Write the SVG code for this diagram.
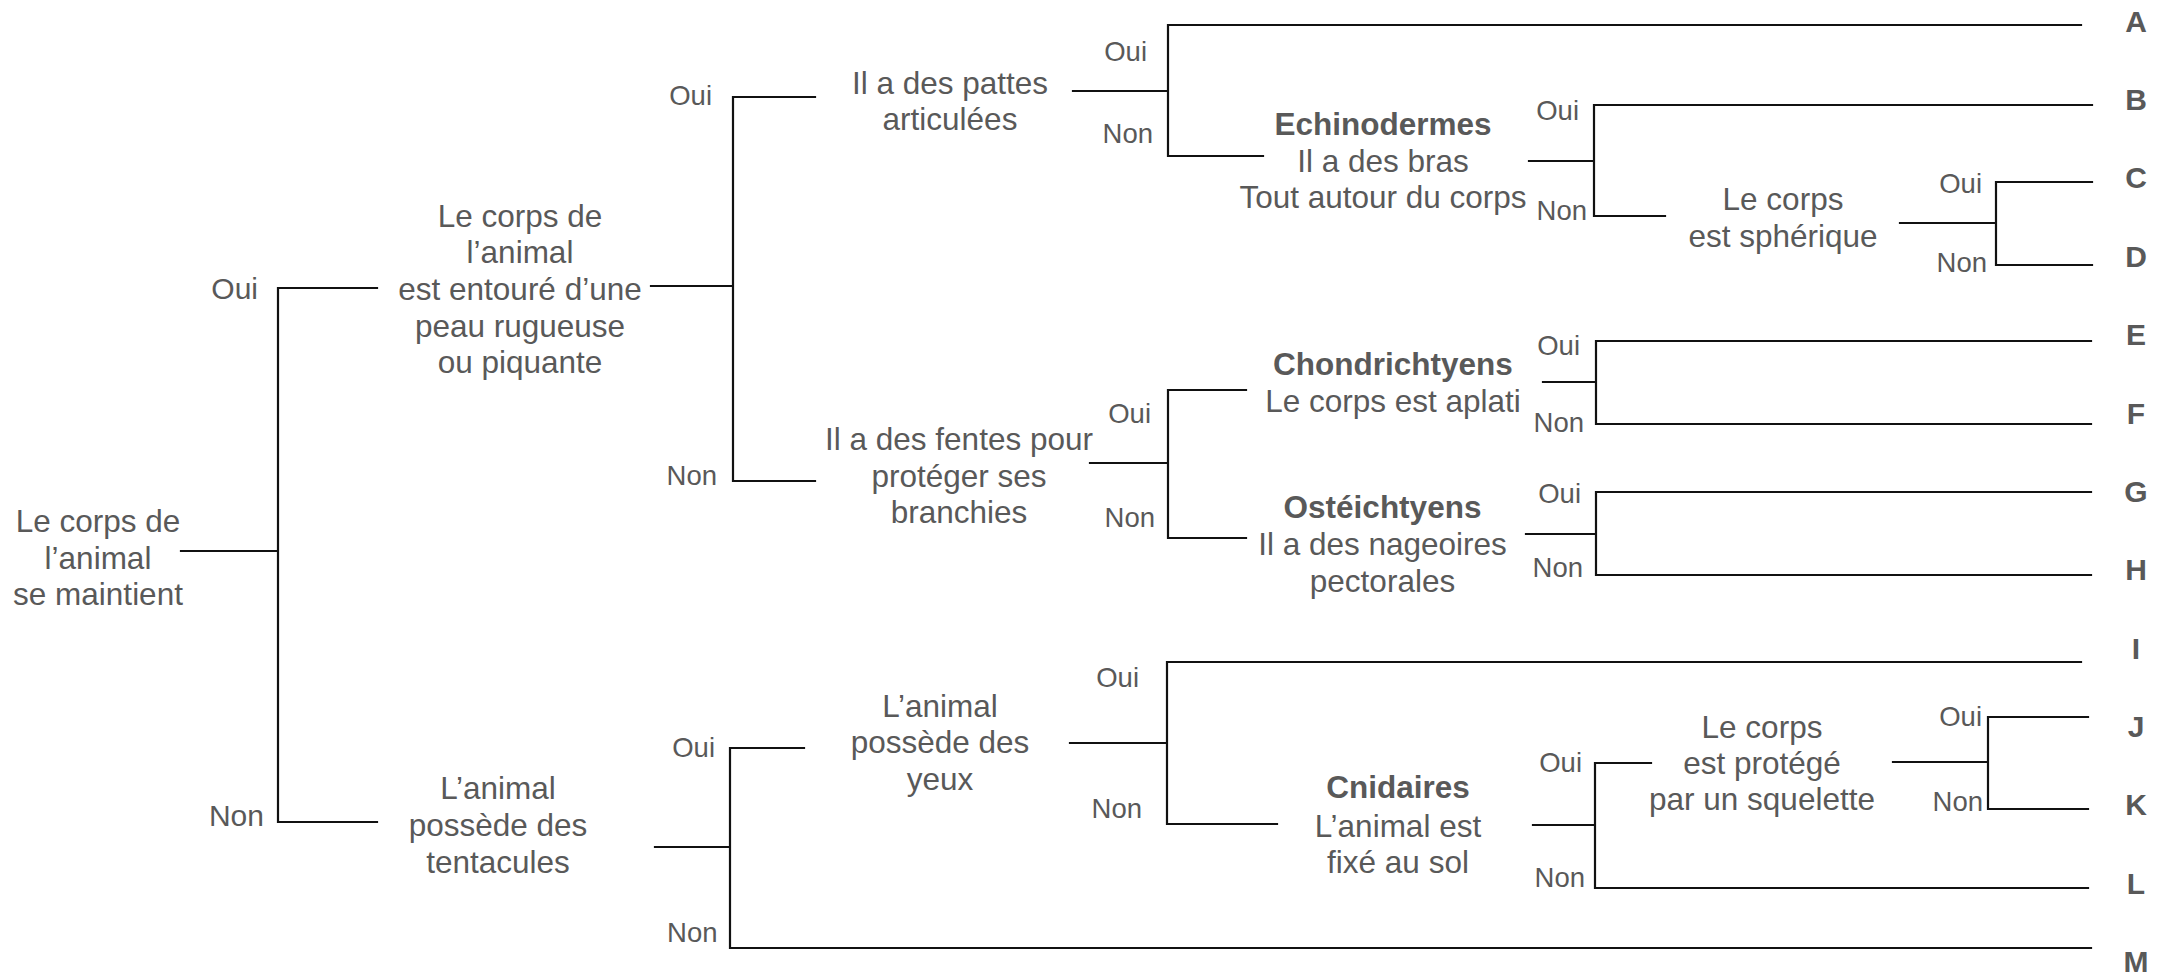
<svg xmlns="http://www.w3.org/2000/svg" width="2163" height="975" viewBox="0 0 2163 975">
<style>
text{font-family:"Liberation Sans",Arial,Helvetica,sans-serif;fill:#595959}
.n{font-size:31.5px;text-anchor:middle}
.b{font-weight:bold}
.l{font-size:27.5px;text-anchor:end}
.r{font-size:30px;text-anchor:end}
.t{font-size:30px;font-weight:bold;text-anchor:middle}
.c{fill:none;stroke:#111;stroke-width:2.2;stroke-linecap:square}
</style>
<rect width="2163" height="975" fill="#fff"/>
<g id="connectors" class="c">
<path d="M181,551 H278 M377,288 H278 V822 H377"/>
<path d="M651,286 H733 M815,97 H733 V481 H815"/>
<path d="M1073,91 H1168 M2081,25 H1168 V156 H1263"/>
<path d="M1529,161 H1594 M2092,105 H1594 V216 H1665"/>
<path d="M1900,223 H1996 M2092,182 H1996 V265 H2092"/>
<path d="M1090,463 H1168 M1246,390 H1168 V538 H1246"/>
<path d="M1543,382 H1596 M2091,341 H1596 V424 H2091"/>
<path d="M1526,534 H1596 M2091,492 H1596 V575 H2091"/>
<path d="M655,847 H730 M804,748 H730 V948 H2091"/>
<path d="M1070,743 H1167 M2081,662 H1167 V824 H1277"/>
<path d="M1533,825 H1595 M1651,763 H1595 V888 H2088"/>
<path d="M1893,762 H1988 M2088,717 H1988 V809 H2088"/>
</g>
<g id="root">
<text class="n" x="98" y="532">Le corps de</text>
<text class="n" x="98" y="568.5">l’animal</text>
<text class="n" x="98" y="605">se maintient</text>
<text class="r" x="258" y="299">Oui</text>
<text class="r" x="264" y="826">Non</text>
</g>
<g id="n-peau">
<text class="n" x="520" y="226.7">Le corps de</text>
<text class="n" x="520" y="263.3">l’animal</text>
<text class="n" x="520" y="300">est entouré d’une</text>
<text class="n" x="520" y="336.7">peau rugueuse</text>
<text class="n" x="520" y="373.3">ou piquante</text>
<text class="l" x="712" y="105">Oui</text>
<text class="l" x="717" y="485">Non</text>
</g>
<g id="n-pattes">
<text class="n" x="950" y="94.3">Il a des pattes</text>
<text class="n" x="950" y="130">articulées</text>
<text class="l" x="1147" y="61">Oui</text>
<text class="l" x="1153" y="143">Non</text>
</g>
<g id="n-echinodermes">
<text class="n b" x="1383" y="135">Echinodermes</text>
<text class="n" x="1383" y="171.7">Il a des bras</text>
<text class="n" x="1383" y="208.3">Tout autour du corps</text>
<text class="l" x="1579" y="120">Oui</text>
<text class="l" x="1587" y="220">Non</text>
</g>
<g id="n-spherique">
<text class="n" x="1783" y="210">Le corps</text>
<text class="n" x="1783" y="246.7">est sphérique</text>
<text class="l" x="1982" y="193">Oui</text>
<text class="l" x="1987" y="272">Non</text>
</g>
<g id="n-fentes">
<text class="n" x="959" y="450">Il a des fentes pour</text>
<text class="n" x="959" y="486.7">protéger ses</text>
<text class="n" x="959" y="523.3">branchies</text>
<text class="l" x="1151" y="423">Oui</text>
<text class="l" x="1155" y="527">Non</text>
</g>
<g id="n-chondrichtyens">
<text class="n b" x="1393" y="375">Chondrichtyens</text>
<text class="n" x="1393" y="411.7">Le corps est aplati</text>
<text class="l" x="1580" y="355">Oui</text>
<text class="l" x="1584" y="432">Non</text>
</g>
<g id="n-osteichtyens">
<text class="n b" x="1382.5" y="518.3">Ostéichtyens</text>
<text class="n" x="1382.5" y="555">Il a des nageoires</text>
<text class="n" x="1382.5" y="591.7">pectorales</text>
<text class="l" x="1581" y="503">Oui</text>
<text class="l" x="1583" y="577">Non</text>
</g>
<g id="n-tentacules">
<text class="n" x="498" y="799.3">L’animal</text>
<text class="n" x="498" y="836">possède des</text>
<text class="n" x="498" y="872.7">tentacules</text>
<text class="l" x="715" y="757">Oui</text>
<text class="l" x="717.5" y="942">Non</text>
</g>
<g id="n-yeux">
<text class="n" x="940" y="716.7">L’animal</text>
<text class="n" x="940" y="753.3">possède des</text>
<text class="n" x="940" y="790">yeux</text>
<text class="l" x="1139" y="687">Oui</text>
<text class="l" x="1142" y="818">Non</text>
</g>
<g id="n-cnidaires">
<text class="n b" x="1398" y="798.3">Cnidaires</text>
<text class="n" x="1398" y="836.7">L’animal est</text>
<text class="n" x="1398" y="873.3">fixé au sol</text>
<text class="l" x="1582" y="772">Oui</text>
<text class="l" x="1585" y="887">Non</text>
</g>
<g id="n-squelette">
<text class="n" x="1762" y="737.5">Le corps</text>
<text class="n" x="1762" y="773.5">est protégé</text>
<text class="n" x="1762" y="810">par un squelette</text>
<text class="l" x="1982" y="726">Oui</text>
<text class="l" x="1983" y="811">Non</text>
</g>
<g id="leaves">
<text class="t" x="2136" y="32">A</text>
<text class="t" x="2136" y="110">B</text>
<text class="t" x="2136" y="188">C</text>
<text class="t" x="2136" y="267">D</text>
<text class="t" x="2136" y="345">E</text>
<text class="t" x="2136" y="424">F</text>
<text class="t" x="2136" y="502">G</text>
<text class="t" x="2136" y="580">H</text>
<text class="t" x="2136" y="659">I</text>
<text class="t" x="2136" y="737">J</text>
<text class="t" x="2136" y="815">K</text>
<text class="t" x="2136" y="894">L</text>
<text class="t" x="2136" y="972">M</text>
</g>
</svg>
